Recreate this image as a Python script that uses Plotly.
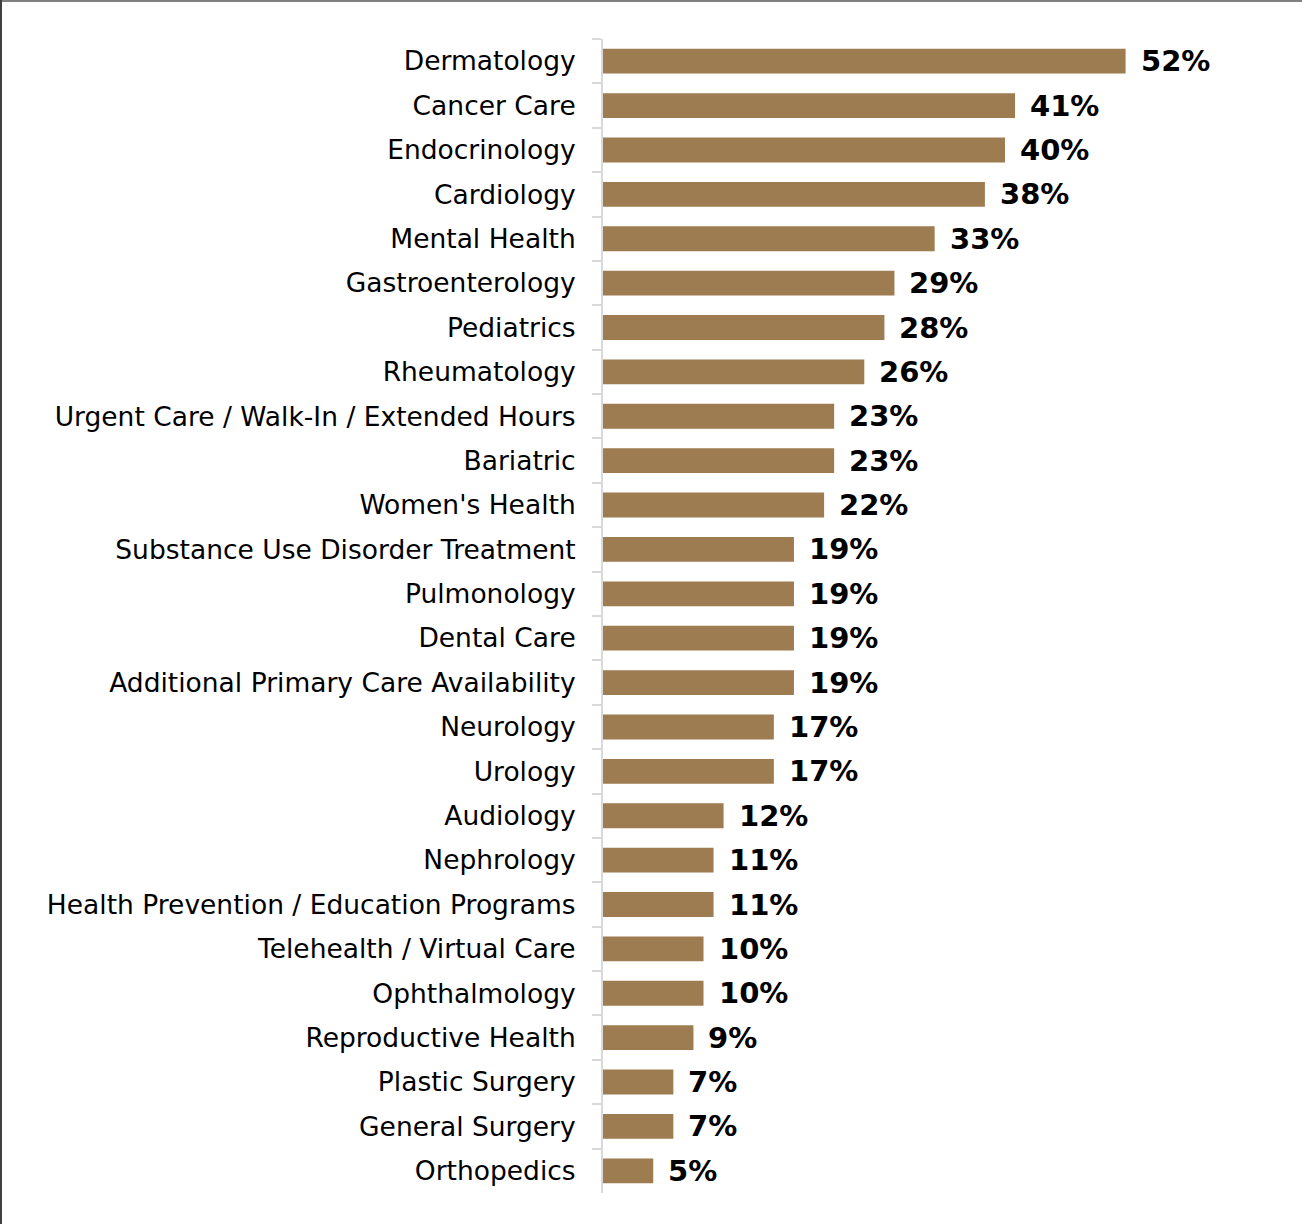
import plotly.graph_objects as go

# Specialty services and the share of respondents selecting each
specialties = [
    "Dermatology", "Cancer Care", "Endocrinology", "Cardiology", "Mental Health",
    "Gastroenterology", "Pediatrics", "Rheumatology",
    "Urgent Care / Walk-In / Extended Hours", "Bariatric", "Women's Health",
    "Substance Use Disorder Treatment", "Pulmonology", "Dental Care",
    "Additional Primary Care Availability", "Neurology", "Urology", "Audiology",
    "Nephrology", "Health Prevention / Education Programs",
    "Telehealth / Virtual Care", "Ophthalmology", "Reproductive Health",
    "Plastic Surgery", "General Surgery", "Orthopedics",
]
shares = [52, 41, 40, 38, 33, 29, 28, 26, 23, 23, 22, 19, 19, 19, 19, 17, 17,
          12, 11, 11, 10, 10, 9, 7, 7, 5]
value_labels = [f"{v}%" for v in shares]

W, H = 1302, 1224
ML, MR, MT, MB = 603, 96, 39, 31
BAR = "#9C7C50"

fig = go.Figure(
    go.Bar(
        x=shares,
        y=specialties,
        orientation="h",
        marker=dict(color=BAR, line=dict(width=0)),
        hoverinfo="skip",
    )
)

# Bold value labels to the right of each bar
for name, v, lab in zip(specialties, shares, value_labels):
    fig.add_annotation(
        x=v, y=name, text=f"<b>{lab}</b>", showarrow=False,
        xanchor="left", yanchor="middle", xshift=13, yshift=0,
        font=dict(family="DejaVu Sans", size=29, color="#000000"),
    )

pw = W - ML - MR
ph = H - MT - MB
# Frame lines along the top and left edges of the figure
fig.add_shape(type="line", xref="paper", yref="paper",
              x0=-ML / pw, x1=(W - ML) / pw, y0=1 + (MT - 1) / ph, y1=1 + (MT - 1) / ph,
              line=dict(color="#808080", width=2))
fig.add_shape(type="line", xref="paper", yref="paper",
              x0=-(ML - 1) / pw, x1=-(ML - 1) / pw, y0=-MB / ph, y1=1 + MT / ph,
              line=dict(color="#404040", width=2))

fig.update_layout(
    width=W, height=H,
    margin=dict(l=ML, r=MR, t=MT, b=MB, pad=0),
    paper_bgcolor="white", plot_bgcolor="white",
    bargap=0.44,
    showlegend=False,
    font=dict(family="DejaVu Sans", color="#000000"),
    xaxis=dict(range=[0, 60], visible=False, fixedrange=True),
    yaxis=dict(
        autorange="reversed",
        showline=True, linecolor="#D9D9D9", linewidth=2,
        ticks="outside", tickson="boundaries", ticklen=9,
        tickcolor="#D9D9D9", tickwidth=2,
        ticklabelstandoff=20,
        tickfont=dict(family="DejaVu Sans", size=26.5, color="#000000"),
        showgrid=False, zeroline=False,
    ),
)

fig.write_html("out.html")
